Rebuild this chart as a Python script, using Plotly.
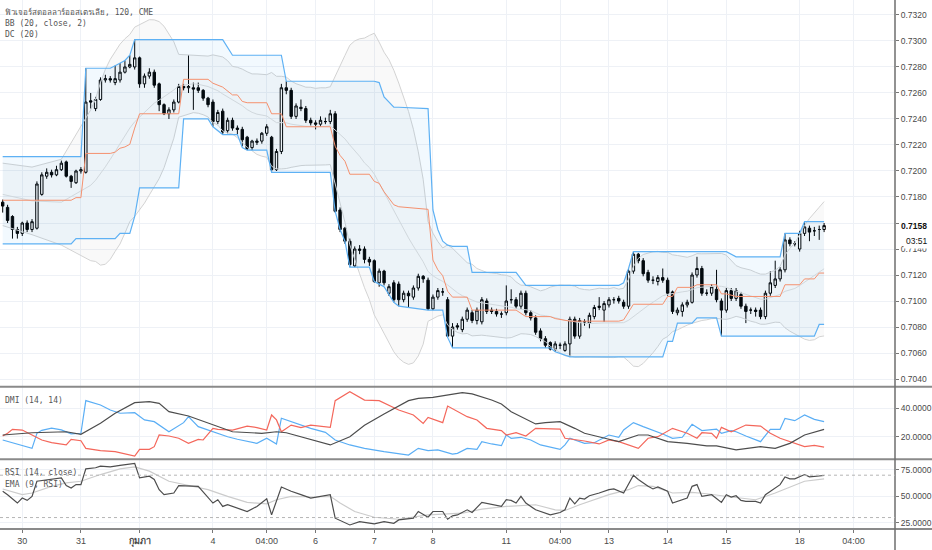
import numpy as np
import pandas as pd
import plotly.graph_objects as go

# ---- price bars (120 min) ----
open_ = [0.7176, 0.7172, 0.7165, 0.7155, 0.7152, 0.7160, 0.7155, 0.7156, 0.7182, 0.7196,
         0.7199, 0.7197, 0.7201, 0.7207, 0.7196, 0.7191, 0.7200, 0.7199, 0.7254, 0.7248,
         0.7255, 0.7270, 0.7271, 0.7268, 0.7270, 0.7276, 0.7280, 0.7280, 0.7287, 0.7267,
         0.7273, 0.7276, 0.7267, 0.7251, 0.7244, 0.7247, 0.7253, 0.7265, 0.7264, 0.7264,
         0.7264, 0.7262, 0.7256, 0.7253, 0.7238, 0.7246, 0.7231, 0.7239, 0.7233, 0.7232,
         0.7226, 0.7218, 0.7222, 0.7223, 0.7229, 0.7226, 0.7201, 0.7215, 0.7264, 0.7262,
         0.7242, 0.7249, 0.7248, 0.7239, 0.7237, 0.7236, 0.7238, 0.7238, 0.7244, 0.7170,
         0.7156, 0.7146, 0.7127, 0.7140, 0.7140, 0.7132, 0.7131, 0.7114, 0.7123, 0.7106,
         0.7114, 0.7113, 0.7101, 0.7106, 0.7103, 0.7110, 0.7119, 0.7116, 0.7094, 0.7103,
         0.7107, 0.7101, 0.7073, 0.7081, 0.7078, 0.7086, 0.7091, 0.7085, 0.7084, 0.7100,
         0.7093, 0.7092, 0.7090, 0.7091, 0.7101, 0.7101, 0.7096, 0.7106, 0.7091, 0.7087,
         0.7077, 0.7071, 0.7068, 0.7063, 0.7066, 0.7062, 0.7067, 0.7086, 0.7073, 0.7084,
         0.7083, 0.7088, 0.7095, 0.7093, 0.7097, 0.7101, 0.7102, 0.7099, 0.7096, 0.7123,
         0.7136, 0.7131, 0.7122, 0.7116, 0.7115, 0.7118, 0.7116, 0.7107, 0.7091, 0.7092,
         0.7097, 0.7099, 0.7120, 0.7125, 0.7106, 0.7106, 0.7109, 0.7100, 0.7093, 0.7108,
         0.7102, 0.7105, 0.7096, 0.7093, 0.7093, 0.7093, 0.7088, 0.7106, 0.7112, 0.7117,
         0.7124, 0.7147, 0.7144, 0.7140, 0.7152, 0.7156, 0.7154, 0.7155, 0.7155]
high_ = [0.7178, 0.7174, 0.7166, 0.7157, 0.7161, 0.7162, 0.7163, 0.7192, 0.7199, 0.7202,
         0.7201, 0.7204, 0.7208, 0.7208, 0.7197, 0.7201, 0.7203, 0.7279, 0.7260, 0.7257,
         0.7272, 0.7274, 0.7273, 0.7281, 0.7283, 0.7285, 0.7289, 0.7301, 0.7288, 0.7275,
         0.7279, 0.7278, 0.7268, 0.7252, 0.7249, 0.7255, 0.7267, 0.7267, 0.7289, 0.7268,
         0.7268, 0.7263, 0.7257, 0.7255, 0.7247, 0.7248, 0.7241, 0.7241, 0.7235, 0.7234,
         0.7227, 0.7224, 0.7225, 0.7230, 0.7236, 0.7227, 0.7217, 0.7267, 0.7269, 0.7264,
         0.7252, 0.7255, 0.7250, 0.7241, 0.7239, 0.7242, 0.7241, 0.7247, 0.7246, 0.7172,
         0.7157, 0.7148, 0.7142, 0.7143, 0.7142, 0.7134, 0.7132, 0.7125, 0.7124, 0.7113,
         0.7116, 0.7115, 0.7108, 0.7108, 0.7112, 0.7121, 0.7120, 0.7118, 0.7105, 0.7110,
         0.7110, 0.7103, 0.7083, 0.7083, 0.7088, 0.7095, 0.7093, 0.7095, 0.7103, 0.7102,
         0.7095, 0.7094, 0.7092, 0.7112, 0.7109, 0.7103, 0.7108, 0.7108, 0.7093, 0.7089,
         0.7079, 0.7073, 0.7069, 0.7069, 0.7068, 0.7069, 0.7088, 0.7088, 0.7087, 0.7086,
         0.7091, 0.7097, 0.7103, 0.7100, 0.7103, 0.7103, 0.7104, 0.7101, 0.7125, 0.7138,
         0.7137, 0.7133, 0.7124, 0.7119, 0.7120, 0.7125, 0.7118, 0.7108, 0.7095, 0.7099,
         0.7101, 0.7122, 0.7134, 0.7127, 0.7109, 0.7113, 0.7124, 0.7102, 0.7110, 0.7110,
         0.7110, 0.7107, 0.7098, 0.7095, 0.7095, 0.7095, 0.7108, 0.7123, 0.7131, 0.7126,
         0.7152, 0.7149, 0.7146, 0.7154, 0.7161, 0.7158, 0.7157, 0.7158, 0.7160]
low_ = [0.7168, 0.7160, 0.7148, 0.7148, 0.7150, 0.7153, 0.7153, 0.7155, 0.7181, 0.7194,
        0.7195, 0.7196, 0.7200, 0.7195, 0.7187, 0.7190, 0.7198, 0.7198, 0.7248, 0.7246,
        0.7254, 0.7268, 0.7268, 0.7266, 0.7268, 0.7275, 0.7279, 0.7278, 0.7264, 0.7264,
        0.7271, 0.7264, 0.7246, 0.7243, 0.7240, 0.7245, 0.7252, 0.7262, 0.7260, 0.7247,
        0.7260, 0.7254, 0.7249, 0.7234, 0.7236, 0.7228, 0.7229, 0.7231, 0.7228, 0.7219,
        0.7216, 0.7216, 0.7220, 0.7221, 0.7227, 0.7199, 0.7200, 0.7213, 0.7259, 0.7240,
        0.7240, 0.7246, 0.7237, 0.7235, 0.7232, 0.7234, 0.7236, 0.7236, 0.7168, 0.7153,
        0.7144, 0.7126, 0.7126, 0.7136, 0.7129, 0.7127, 0.7114, 0.7111, 0.7112, 0.7104,
        0.7099, 0.7096, 0.7099, 0.7095, 0.7101, 0.7108, 0.7114, 0.7093, 0.7093, 0.7101,
        0.7104, 0.7072, 0.7064, 0.7078, 0.7076, 0.7084, 0.7083, 0.7082, 0.7082, 0.7090,
        0.7090, 0.7088, 0.7087, 0.7089, 0.7098, 0.7094, 0.7094, 0.7089, 0.7085, 0.7074,
        0.7069, 0.7064, 0.7062, 0.7061, 0.7063, 0.7061, 0.7057, 0.7071, 0.7071, 0.7081,
        0.7079, 0.7086, 0.7093, 0.7084, 0.7095, 0.7098, 0.7098, 0.7094, 0.7094, 0.7121,
        0.7129, 0.7119, 0.7114, 0.7113, 0.7112, 0.7114, 0.7104, 0.7090, 0.7089, 0.7088,
        0.7095, 0.7098, 0.7118, 0.7104, 0.7104, 0.7104, 0.7099, 0.7073, 0.7091, 0.7100,
        0.7100, 0.7094, 0.7083, 0.7090, 0.7088, 0.7086, 0.7086, 0.7104, 0.7110, 0.7115,
        0.7122, 0.7142, 0.7142, 0.7138, 0.7150, 0.7146, 0.7150, 0.7147, 0.7153]
close_ = [0.7173, 0.7162, 0.7155, 0.7152, 0.7160, 0.7155, 0.7161, 0.7190, 0.7197, 0.7199,
          0.7197, 0.7201, 0.7206, 0.7196, 0.7192, 0.7200, 0.7201, 0.7253, 0.7253, 0.7255,
          0.7270, 0.7271, 0.7270, 0.7271, 0.7276, 0.7280, 0.7282, 0.7287, 0.7267, 0.7273,
          0.7276, 0.7266, 0.7251, 0.7244, 0.7247, 0.7253, 0.7265, 0.7264, 0.7265, 0.7263,
          0.7262, 0.7256, 0.7251, 0.7238, 0.7245, 0.7230, 0.7239, 0.7233, 0.7232, 0.7224,
          0.7217, 0.7223, 0.7223, 0.7229, 0.7234, 0.7201, 0.7215, 0.7264, 0.7262, 0.7242,
          0.7250, 0.7248, 0.7239, 0.7237, 0.7236, 0.7239, 0.7238, 0.7244, 0.7169, 0.7155,
          0.7146, 0.7128, 0.7140, 0.7139, 0.7132, 0.7130, 0.7115, 0.7123, 0.7114, 0.7111,
          0.7101, 0.7101, 0.7106, 0.7104, 0.7110, 0.7119, 0.7117, 0.7094, 0.7103, 0.7108,
          0.7107, 0.7073, 0.7080, 0.7080, 0.7086, 0.7093, 0.7085, 0.7093, 0.7101, 0.7092,
          0.7092, 0.7090, 0.7090, 0.7100, 0.7101, 0.7096, 0.7106, 0.7091, 0.7087, 0.7076,
          0.7071, 0.7066, 0.7063, 0.7067, 0.7066, 0.7067, 0.7086, 0.7073, 0.7085, 0.7084,
          0.7089, 0.7095, 0.7096, 0.7098, 0.7101, 0.7101, 0.7100, 0.7096, 0.7123, 0.7136,
          0.7131, 0.7121, 0.7116, 0.7116, 0.7118, 0.7116, 0.7106, 0.7092, 0.7093, 0.7097,
          0.7099, 0.7120, 0.7125, 0.7106, 0.7106, 0.7111, 0.7101, 0.7093, 0.7108, 0.7102,
          0.7108, 0.7096, 0.7092, 0.7093, 0.7092, 0.7088, 0.7106, 0.7114, 0.7117, 0.7124,
          0.7147, 0.7144, 0.7144, 0.7152, 0.7157, 0.7153, 0.7154, 0.7155, 0.7158]

# Donchian channel (20) - read at the bars where it changes
dc_x = [0, 14, 15, 16, 17, 22, 23, 24, 25, 26, 27, 28, 36, 37, 42, 43, 45, 47, 48, 49,
        50, 54, 55, 57, 58, 67, 68, 69, 70, 71, 75, 76, 77, 78, 80, 81, 87, 88, 89, 90,
        91, 92, 95, 96, 105, 107, 112, 113, 116, 126, 127, 128, 129, 135, 136, 137, 138,
        141, 142, 145, 146, 147, 148, 150, 159, 160, 163, 164, 166, 167, 168]
dc_upper = [0.7211, 0.7211, 0.7211, 0.7211, 0.7279, 0.7279, 0.7281, 0.7283, 0.7285, 0.7289,
            0.7301, 0.7301, 0.7301, 0.7301, 0.7301, 0.7301, 0.7301, 0.7289, 0.7289, 0.7289,
            0.7289, 0.7289, 0.7289, 0.7289, 0.7269, 0.7269, 0.7269, 0.7269, 0.7269, 0.7269,
            0.7269, 0.7269, 0.7268, 0.7257, 0.7249, 0.7249, 0.7248, 0.7170, 0.7155, 0.7146,
            0.7143, 0.7142, 0.7142, 0.7122, 0.7122, 0.7112, 0.7112, 0.7112, 0.7112, 0.7112,
            0.7114, 0.7125, 0.7138, 0.7138, 0.7138, 0.7138, 0.7138, 0.7138, 0.7138, 0.7138,
            0.7138, 0.7138, 0.7138, 0.7134, 0.7134, 0.7152, 0.7152, 0.7161, 0.7161, 0.7161,
            0.7161]
dc_lower = [0.7144, 0.7144, 0.7148, 0.7148, 0.7148, 0.7148, 0.7148, 0.7152, 0.7152, 0.7152,
            0.7165, 0.7187, 0.7187, 0.7240, 0.7240, 0.7234, 0.7228, 0.7228, 0.7228, 0.7218,
            0.7216, 0.7216, 0.7199, 0.7199, 0.7199, 0.7199, 0.7169, 0.7155, 0.7146, 0.7126,
            0.7126, 0.7115, 0.7113, 0.7111, 0.7099, 0.7096, 0.7093, 0.7093, 0.7093, 0.7093,
            0.7072, 0.7064, 0.7064, 0.7064, 0.7064, 0.7064, 0.7064, 0.7061, 0.7057, 0.7057,
            0.7057, 0.7057, 0.7057, 0.7057, 0.7069, 0.7069, 0.7083, 0.7083, 0.7087, 0.7087,
            0.7087, 0.7073, 0.7073, 0.7073, 0.7073, 0.7073, 0.7073, 0.7073, 0.7073, 0.7082,
            0.7082]

# Bollinger values before a full 20-bar window is on screen
bb_head_x = [0, 6, 12, 18]
bb_head_upper = [0.7206, 0.7203, 0.7209, 0.7247]
bb_head_basis = [0.7182, 0.7177, 0.7176, 0.7189]
bb_head_lower = [0.7158, 0.7151, 0.7143, 0.7131]

# DMI (14, 14)
plus_x = [0, 6, 7, 8, 10, 12, 14, 16, 17, 20, 22, 24, 27, 29, 31, 34, 37, 38, 40, 42,
          46, 48, 52, 54, 56, 57, 59, 61, 63, 66, 68, 71, 74, 78, 83, 85, 87, 89, 92, 93,
          95, 97, 98, 100, 102, 103, 104, 106, 108, 110, 114, 115, 116, 119, 121, 124, 126,
          127, 129, 131, 133, 135, 137, 139, 141, 143, 146, 147, 149, 150, 152, 155, 157,
          159, 160, 162, 164, 166, 168]
plus_di = [17.7, 11.8, 22.4, 24.5, 26.0, 24.8, 22.0, 22.4, 45.4, 42.3, 38.8, 36.5, 36.9, 31.8,
           30.6, 23.5, 29.9, 34.1, 27.1, 24.7, 20.0, 18.2, 15.3, 18.9, 14.9, 33.0, 30.6, 28.2,
           25.9, 23.1, 17.7, 14.2, 11.8, 9.5, 7.1, 11.8, 10.2, 10.7, 7.8, 8.3, 11.8, 11.1, 16.5,
           14.9, 13.7, 21.2, 18.9, 19.6, 17.7, 14.2, 11.1, 14.2, 18.9, 15.3, 15.8, 21.2, 19.6,
           24.7, 29.9, 27.1, 24.7, 21.9, 18.9, 19.6, 28.7, 24.3, 25.4, 22.4, 24.3, 23.5, 20.5,
           16.5, 25.2, 25.2, 32.9, 31.3, 35.3, 32.2, 30.6]
minus_x = [0, 1, 2, 4, 6, 8, 10, 13, 14, 16, 17, 20, 23, 27, 28, 30, 31, 32, 34, 36, 38,
           40, 41, 43, 44, 47, 50, 52, 54, 55, 56, 57, 59, 61, 63, 66, 67, 68, 71, 74, 77,
           81, 84, 86, 87, 90, 91, 95, 97, 99, 102, 103, 105, 107, 109, 114, 115, 119, 122,
           124, 126, 130, 132, 134, 137, 140, 142, 143, 145, 146, 147, 149, 152, 155, 157,
           159, 161, 164, 166, 168]
minus_di = [20.5, 22.4, 25.2, 24.7, 21.2, 17.7, 15.8, 14.2, 18.1, 17.2, 11.8, 10.2, 9.5, 6.4,
            11.1, 11.1, 13.0, 21.2, 20.5, 18.9, 15.3, 18.1, 17.7, 25.9, 25.2, 24.7, 27.5, 26.4,
            24.7, 35.3, 31.8, 23.5, 28.2, 26.4, 28.2, 27.1, 26.6, 45.4, 51.7, 45.8, 45.4, 38.8,
            35.3, 29.4, 33.6, 29.9, 41.6, 34.1, 31.8, 25.9, 24.3, 21.2, 22.8, 20.5, 25.9, 25.4,
            18.9, 17.0, 14.9, 17.7, 16.5, 11.8, 18.9, 20.0, 25.9, 22.4, 18.9, 22.8, 22.4, 18.9,
            26.6, 23.5, 28.2, 27.5, 22.4, 18.9, 16.5, 13.0, 13.9, 12.7]
adx_x = [0, 3, 6, 13, 16, 20, 23, 27, 30, 32, 34, 38, 40, 44, 47, 53, 56, 58, 61, 64, 67,
         71, 74, 78, 83, 85, 88, 94, 96, 100, 102, 104, 106, 109, 111, 114, 117, 119, 124,
         126, 130, 132, 136, 140, 144, 146, 150, 155, 158, 161, 164, 168]
adx = [21.2, 21.9, 22.8, 23.5, 21.7, 29.4, 36.5, 44.0, 44.7, 43.5, 37.6, 34.6, 32.2, 27.1,
       23.5, 22.4, 23.5, 22.8, 20.0, 17.2, 14.2, 20.0, 28.0, 36.0, 45.4, 47.0, 47.7, 51.0,
       50.1, 45.8, 43.0, 37.6, 34.1, 29.0, 29.9, 30.6, 25.9, 22.4, 18.2, 16.5, 21.2, 21.2,
       16.5, 15.3, 13.5, 13.5, 10.7, 13.0, 11.8, 15.3, 21.2, 25.2]

# RSI (14, close) and EMA (9, RSI)
rsi_x = [0, 1, 3, 4, 5, 6, 7, 10, 12, 13, 14, 15, 16, 17, 19, 20, 22, 24, 27, 28, 30, 31,
         32, 33, 35, 36, 39, 40, 43, 44, 45, 46, 50, 52, 54, 55, 57, 59, 61, 63, 67, 68, 71,
         73, 76, 78, 80, 81, 84, 85, 87, 88, 90, 91, 92, 93, 95, 96, 98, 100, 102, 103, 104,
         105, 106, 107, 109, 112, 114, 115, 116, 117, 118, 119, 120, 122, 124, 125, 127, 129,
         130, 132, 133, 134, 136, 137, 138, 140, 141, 142, 143, 145, 147, 148, 149, 150, 151,
         152, 154, 155, 156, 158, 159, 160, 161, 162, 164, 165, 168]
rsi = [54.8, 51.6, 43.7, 48.4, 46.2, 50.0, 64.3, 65.9, 67.5, 60.2, 57.9, 61.1, 61.1, 76.0,
       77.0, 78.6, 77.9, 79.2, 81.1, 67.5, 69.0, 65.9, 56.3, 51.6, 53.2, 60.2, 59.5, 59.5,
       43.7, 46.8, 40.5, 42.1, 35.7, 40.5, 47.8, 32.5, 58.9, 54.8, 51.6, 48.4, 51.6, 29.4,
       23.0, 26.2, 24.0, 26.2, 24.6, 27.8, 29.4, 35.7, 30.3, 35.7, 35.7, 28.4, 31.6, 32.5,
       37.3, 34.8, 44.3, 42.1, 40.5, 46.8, 46.2, 43.7, 50.0, 43.7, 37.3, 32.5, 34.8, 37.3,
       48.4, 43.0, 48.4, 47.5, 50.6, 53.2, 56.3, 57.0, 53.2, 70.0, 65.9, 59.5, 57.0, 58.9,
       54.8, 43.7, 45.2, 48.4, 59.5, 61.1, 50.0, 51.6, 44.3, 51.6, 49.4, 50.6, 46.2, 45.2,
       45.2, 43.7, 51.6, 57.9, 61.1, 68.4, 66.5, 66.5, 70.6, 68.4, 69.7]
ema_x = [0, 4, 6, 10, 13, 16, 20, 24, 27, 30, 34, 38, 42, 46, 50, 54, 56, 59, 64, 67, 69,
         72, 76, 81, 87, 94, 98, 103, 109, 113, 115, 118, 124, 128, 130, 133, 137, 141, 144,
         149, 154, 158, 162, 164, 168]
rsi_ema = [57.0, 51.6, 53.2, 59.5, 62.7, 64.3, 70.6, 76.0, 77.9, 73.8, 64.3, 60.2, 56.3, 50.0,
           44.3, 43.0, 46.8, 50.0, 49.4, 50.0, 43.7, 35.7, 30.3, 28.4, 32.5, 34.1, 37.9, 40.5,
           42.1, 37.3, 36.7, 42.1, 51.6, 56.3, 60.2, 59.5, 53.2, 53.8, 52.5, 49.4, 46.8, 53.2,
           61.1, 64.3, 66.5]

# time axis
tick_bars = [4, 16, 28, 43, 54, 64, 76, 88, 103, 114, 124, 136, 148, 163, 174]
tick_text = ["30", "31", "<b>กุมภา</b>", "4", "04:00", "6", "7", "8", "11", "04:00",
             "13", "14", "15", "18", "04:00"]
price_ticks = [0.7040, 0.7060, 0.7080, 0.7100, 0.7120, 0.7140, 0.7160, 0.7180, 0.7200,
               0.7220, 0.7240, 0.7260, 0.7280, 0.7300, 0.7320]
last_price = "0.7158"
countdown = "03:51"

# ---- derived ----
bars = np.arange(len(close_))
closes = pd.Series(close_)
sma = closes.rolling(20).mean()
sd = closes.rolling(20).std(ddof=0)
bb_x = bb_head_x + list(bars[19:])
bb_basis = bb_head_basis + list(sma[19:])
bb_upper = bb_head_upper + list((sma + 2 * sd)[19:])
bb_lower = bb_head_lower + list((sma - 2 * sd)[19:])
dc_mid = (np.array(dc_upper) + np.array(dc_lower)) / 2

# the 0.7160 label sits under the last-price tag, so leave it blank
price_text = ["" if abs(v - float(last_price)) < 0.0005 else f"{v:.4f}" for v in price_ticks]

GRID = "#eef1f6"
BB_COL = "#d3d3d3"
DC_COL = "#5eb1f4"
TXT = "#4a4a4a"
FONT = "Liberation Sans, Arial, sans-serif"

fig = go.Figure()

# Bollinger bands
fig.add_trace(go.Scatter(x=bb_x, y=bb_upper, mode="lines", line=dict(color=BB_COL, width=1)))
fig.add_trace(go.Scatter(x=bb_x, y=bb_lower, mode="lines", line=dict(color=BB_COL, width=1),
                         fill="tonexty", fillcolor="rgba(0,0,0,0.025)"))
fig.add_trace(go.Scatter(x=bb_x, y=bb_basis, mode="lines", line=dict(color="#dcdcdc", width=1)))

# Donchian channel
fig.add_trace(go.Scatter(x=dc_x, y=dc_upper, mode="lines", line=dict(color=DC_COL, width=1.2)))
fig.add_trace(go.Scatter(x=dc_x, y=dc_lower, mode="lines", line=dict(color=DC_COL, width=1.2),
                         fill="tonexty", fillcolor="rgba(33,150,243,0.06)"))
fig.add_trace(go.Scatter(x=dc_x, y=dc_mid, mode="lines", line=dict(color="#f5916f", width=1)))

# candles
fig.add_trace(go.Candlestick(
    x=bars, open=open_, high=high_, low=low_, close=close_,
    increasing=dict(line=dict(color="#000000", width=1), fillcolor="#ffffff"),
    decreasing=dict(line=dict(color="#000000", width=1), fillcolor="#000000"),
    whiskerwidth=0,
))

# DMI pane
fig.add_trace(go.Scatter(x=plus_x, y=plus_di, mode="lines", yaxis="y2",
                         line=dict(color="#5aaef5", width=1.2)))
fig.add_trace(go.Scatter(x=minus_x, y=minus_di, mode="lines", yaxis="y2",
                         line=dict(color="#f4675b", width=1.2)))
fig.add_trace(go.Scatter(x=adx_x, y=adx, mode="lines", yaxis="y2",
                         line=dict(color="#4d4d4d", width=1.2)))

# RSI pane
fig.add_trace(go.Scatter(x=ema_x, y=rsi_ema, mode="lines", yaxis="y3",
                         line=dict(color="#cccccc", width=1.2)))
fig.add_trace(go.Scatter(x=rsi_x, y=rsi, mode="lines", yaxis="y3",
                         line=dict(color="#4d4d4d", width=1.2)))

H = 529.0  # plot height in px (550 - bottom margin)
main_dom = [1 - 386.7 / H, 1]
dmi_dom = [1 - 459.3 / H, 1 - 386.7 / H]
rsi_dom = [0, 1 - 459.3 / H]

axis_common = dict(side="right", showgrid=True, gridcolor=GRID, zeroline=False,
                   ticks="outside", ticklen=3, tickcolor="#777", automargin=False,
                   tickfont=dict(family=FONT, size=8.5, color=TXT), fixedrange=True)

fig.update_layout(
    width=932, height=550,
    margin=dict(l=0, r=37, t=0, b=21),
    paper_bgcolor="white", plot_bgcolor="white",
    showlegend=False,
    xaxis=dict(range=[-0.55, 182.5], anchor="y3", tickvals=tick_bars, ticktext=tick_text,
               showgrid=True, gridcolor=GRID, zeroline=False, ticks="outside", ticklen=3,
               tickcolor="#777", rangeslider=dict(visible=False), automargin=False,
               tickfont=dict(family=FONT, size=9, color=TXT)),
    yaxis=dict(domain=main_dom, range=[0.70341, 0.73315], tickvals=price_ticks,
               ticktext=price_text, **axis_common),
    yaxis2=dict(domain=dmi_dom, range=[4.1, 55.2], tickvals=[20, 40],
                ticktext=["20.0000", "40.0000"], **axis_common),
    yaxis3=dict(domain=rsi_dom, range=[19.2, 85], tickvals=[25, 50, 75],
                ticktext=["25.0000", "50.0000", "75.0000"], **axis_common),
)

# pane borders and price axis line
xr = 1 + 37 / 895
for yy in [main_dom[0], dmi_dom[0], 0]:
    fig.add_shape(type="line", xref="paper", yref="paper", x0=0, x1=xr, y0=yy, y1=yy,
                  line=dict(color="#8a8a8a", width=2))
fig.add_shape(type="line", xref="paper", yref="paper", x0=1, x1=1, y0=-21 / H, y1=1,
              line=dict(color="#6e6e6e", width=1.5))
for lvl in [70, 30]:
    fig.add_shape(type="line", xref="paper", yref="y3", x0=0, x1=1, y0=lvl, y1=lvl,
                  line=dict(color="#b5b5b5", width=1, dash="dot"))

# pane legends
legend_font = dict(family="DejaVu Sans Mono, monospace", size=8, color="#555555")
labels = [("ฟิวเจอร์สดอลลาร์ออสเตรเลีย, 120, CME", 1 - 12.3 / H),
          ("BB (20, close, 2)", 1 - 23.7 / H),
          ("DC (20)", 1 - 34.3 / H),
          ("DMI (14, 14)", 1 - 400 / H),
          ("RSI (14, close)", 1 - 472.3 / H),
          ("EMA (9, RSI)", 1 - 484 / H)]
for txt, yy in labels:
    fig.add_annotation(text=txt, xref="paper", yref="paper", x=0, y=yy, xanchor="left",
                       yanchor="middle", xshift=3, showarrow=False, font=legend_font)

# last price tag and bar countdown
tag_font = dict(family=FONT, size=8.5, color="#111111")
fig.add_annotation(text=f"<b>{last_price}</b>", xref="paper", yref="y", x=1,
                   y=float(last_price), xanchor="left", yanchor="middle", xshift=4,
                   showarrow=False, bgcolor="white", borderpad=1, font=tag_font)
fig.add_annotation(text=countdown, xref="paper", yref="y", x=1, y=float(last_price),
                   xanchor="left", yanchor="middle", xshift=8, yshift=-15,
                   showarrow=False, bgcolor="white", borderpad=2, font=tag_font)

fig.write_html("out.html", config={"displayModeBar": False},
               post_script="document.body.style.margin='0';")
